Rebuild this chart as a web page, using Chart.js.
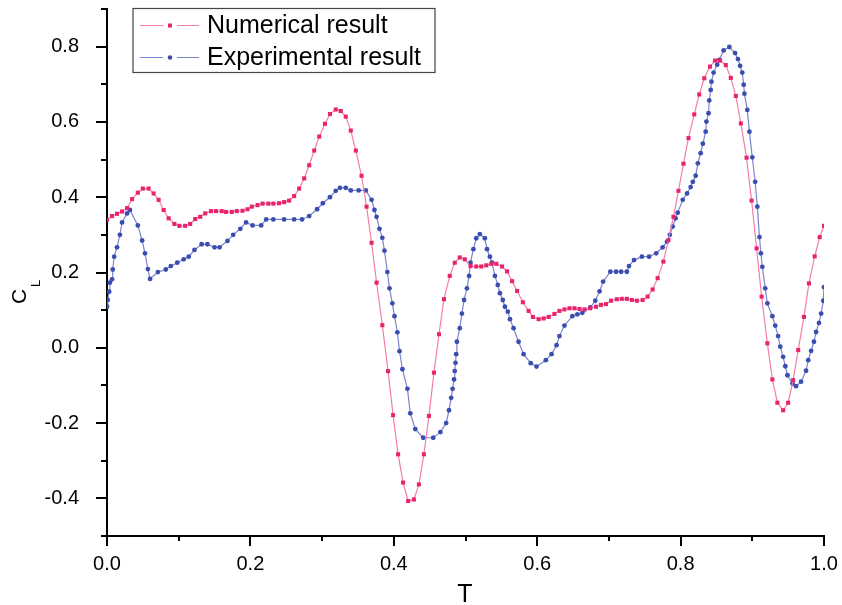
<!DOCTYPE html>
<html lang="en">
<head>
<meta charset="UTF-8" />
<title>CL vs T</title>
<script src="https://cdn.jsdelivr.net/npm/chart.js"></script>
<style>
  html, body { margin: 0; padding: 0; background: #fff; }
  .wrap { position: relative; width: 842px; height: 605px; }
</style>
</head>
<body>
<div class="wrap"><canvas id="clChart" width="842" height="605"></canvas></div>
<script>
// numerical result (pink squares)
const numT = [
  0, 0.007, 0.014, 0.021, 0.028, 0.035, 0.043, 0.05, 0.058, 0.065, 0.072, 0.079, 0.086, 0.094,
  0.101, 0.109, 0.116, 0.123, 0.13, 0.137, 0.145, 0.152, 0.16, 0.166, 0.174, 0.181, 0.189, 0.196,
  0.202, 0.21, 0.217, 0.225, 0.232, 0.24, 0.247, 0.254, 0.261, 0.268, 0.275, 0.282, 0.289, 0.296,
  0.304, 0.311, 0.319, 0.326, 0.333, 0.34, 0.347, 0.355, 0.362, 0.369, 0.376, 0.384, 0.392, 0.399,
  0.406, 0.413, 0.42, 0.428, 0.435, 0.442, 0.449, 0.456, 0.463, 0.47, 0.478, 0.485, 0.492, 0.499,
  0.507, 0.515, 0.522, 0.529, 0.536, 0.543, 0.551, 0.558, 0.565, 0.572, 0.58, 0.588, 0.594, 0.602,
  0.609, 0.616, 0.624, 0.631, 0.638, 0.645, 0.652, 0.659, 0.666, 0.674, 0.682, 0.689, 0.696, 0.703,
  0.711, 0.718, 0.725, 0.732, 0.739, 0.747, 0.754, 0.761, 0.768, 0.776, 0.783, 0.79, 0.797, 0.804,
  0.811, 0.819, 0.826, 0.833, 0.841, 0.848, 0.855, 0.863, 0.87, 0.877, 0.884, 0.892, 0.899, 0.906,
  0.913, 0.921, 0.928, 0.935, 0.943, 0.95, 0.957, 0.964, 0.972, 0.979, 0.987, 0.994, 1.0
];
const numCL = [
  0.34, 0.35, 0.356, 0.362, 0.371, 0.395, 0.412, 0.423, 0.423, 0.41, 0.393, 0.366, 0.344, 0.329,
  0.324, 0.324, 0.329, 0.342, 0.348, 0.357, 0.363, 0.363, 0.363, 0.361, 0.361, 0.363, 0.364, 0.368,
  0.375, 0.379, 0.383, 0.383, 0.383, 0.384, 0.387, 0.391, 0.403, 0.423, 0.45, 0.485, 0.524, 0.561,
  0.595, 0.621, 0.633, 0.629, 0.614, 0.577, 0.524, 0.457, 0.375, 0.279, 0.173, 0.06, -0.062, -0.179,
  -0.283, -0.358, -0.407, -0.403, -0.363, -0.283, -0.181, -0.066, 0.036, 0.129, 0.191, 0.226, 0.24, 0.235,
  0.217, 0.216, 0.216, 0.219, 0.223, 0.223, 0.216, 0.203, 0.177, 0.151, 0.121, 0.098, 0.082, 0.076,
  0.078, 0.082, 0.09, 0.098, 0.102, 0.105, 0.105, 0.103, 0.102, 0.105, 0.109, 0.114, 0.116, 0.125,
  0.129, 0.13, 0.13, 0.127, 0.125, 0.127, 0.136, 0.155, 0.185, 0.229, 0.286, 0.348, 0.417, 0.489,
  0.557, 0.62, 0.673, 0.716, 0.747, 0.763, 0.763, 0.751, 0.717, 0.669, 0.596, 0.505, 0.391, 0.264,
  0.136, 0.012, -0.084, -0.146, -0.166, -0.146, -0.086, -0.006, 0.082, 0.171, 0.243, 0.294, 0.324
];

// experimental result (blue dots)
const expT = [
  0, 0.001, 0.003, 0.004, 0.007, 0.008, 0.01, 0.014, 0.018, 0.021, 0.028, 0.032, 0.043, 0.049,
  0.053, 0.057, 0.06, 0.071, 0.082, 0.089, 0.098, 0.107, 0.114, 0.122, 0.132, 0.14, 0.15, 0.157,
  0.168, 0.176, 0.186, 0.194, 0.203, 0.215, 0.222, 0.232, 0.247, 0.261, 0.272, 0.282, 0.293, 0.301,
  0.311, 0.319, 0.325, 0.333, 0.34, 0.351, 0.361, 0.369, 0.373, 0.376, 0.38, 0.384, 0.387, 0.391,
  0.394, 0.398, 0.401, 0.405, 0.408, 0.412, 0.419, 0.423, 0.43, 0.441, 0.455, 0.465, 0.473, 0.477,
  0.48, 0.482, 0.484, 0.485, 0.486, 0.487, 0.488, 0.492, 0.495, 0.498, 0.502, 0.505, 0.507, 0.511,
  0.515, 0.52, 0.527, 0.53, 0.534, 0.537, 0.541, 0.545, 0.548, 0.552, 0.555, 0.559, 0.562, 0.567,
  0.574, 0.581, 0.591, 0.599, 0.612, 0.62, 0.627, 0.631, 0.638, 0.649, 0.656, 0.663, 0.674, 0.681,
  0.687, 0.692, 0.702, 0.71, 0.717, 0.725, 0.728, 0.735, 0.746, 0.756, 0.766, 0.775, 0.781, 0.785,
  0.789, 0.793, 0.796, 0.803, 0.809, 0.814, 0.817, 0.821, 0.824, 0.828, 0.831, 0.835, 0.836, 0.839,
  0.84, 0.842, 0.843, 0.846, 0.851, 0.854, 0.86, 0.868, 0.876, 0.88, 0.883, 0.886, 0.888, 0.889,
  0.893, 0.896, 0.9, 0.904, 0.907, 0.91, 0.912, 0.914, 0.918, 0.921, 0.928, 0.932, 0.936, 0.939,
  0.943, 0.946, 0.949, 0.956, 0.961, 0.968, 0.975, 0.978, 0.982, 0.986, 0.989, 0.993, 0.996, 0.999, 1.0
];
const expCL = [
  0.109, 0.127, 0.149, 0.173, 0.182, 0.208, 0.242, 0.267, 0.3, 0.333, 0.357, 0.366, 0.325, 0.285,
  0.251, 0.209, 0.183, 0.201, 0.208, 0.217, 0.226, 0.235, 0.242, 0.26, 0.275, 0.275, 0.267, 0.267,
  0.284, 0.3, 0.316, 0.333, 0.325, 0.325, 0.341, 0.341, 0.341, 0.341, 0.341, 0.35, 0.368, 0.384,
  0.4, 0.417, 0.425, 0.425, 0.418, 0.418, 0.418, 0.393, 0.366, 0.348, 0.316, 0.292, 0.258, 0.201,
  0.158, 0.118, 0.084, 0.041, -0.009, -0.057, -0.109, -0.174, -0.216, -0.239, -0.239, -0.224, -0.2, -0.166,
  -0.133, -0.109, -0.084, -0.062, -0.04, -0.017, 0.016, 0.052, 0.091, 0.127, 0.158, 0.191, 0.226, 0.262,
  0.291, 0.302, 0.291, 0.262, 0.242, 0.226, 0.191, 0.167, 0.145, 0.127, 0.109, 0.096, 0.076, 0.052,
  0.016, -0.017, -0.041, -0.05, -0.033, -0.017, 0.007, 0.031, 0.059, 0.084, 0.089, 0.093, 0.107, 0.125,
  0.15, 0.176, 0.202, 0.202, 0.202, 0.202, 0.217, 0.233, 0.242, 0.242, 0.251, 0.267, 0.282, 0.3,
  0.322, 0.344, 0.359, 0.393, 0.41, 0.427, 0.441, 0.457, 0.49, 0.517, 0.542, 0.574, 0.601, 0.623,
  0.657, 0.685, 0.707, 0.731, 0.752, 0.765, 0.79, 0.799, 0.783, 0.767, 0.749, 0.731, 0.699, 0.675,
  0.632, 0.574, 0.506, 0.441, 0.375, 0.294, 0.251, 0.215, 0.158, 0.118, 0.084, 0.059, 0.031, 0.003,
  -0.024, -0.049, -0.073, -0.095, -0.102, -0.09, -0.061, -0.033, -0.008, 0.016, 0.042, 0.066, 0.091, 0.125, 0.161
];

const seriesNames = ["Numerical result", "Experimental result"];
const xTitle = "T";
const yTitleMain = "C";
const yTitleSub = "L";

const FONT = "Arial, 'Liberation Sans', sans-serif";
const NUM_LINE = "#f47ea8";
const NUM_MARK = "#e8246f";
const EXP_LINE = "#7d84cf";
const EXP_MARK = "#3a4eaf";

function toPoints(xs, ys) {
  return xs.map((x, i) => ({ x: x, y: ys[i] }));
}

function isMajor(v) {
  return Math.round(v * 10) % 2 === 0;
}

function tickLabel(v) {
  if (!isMajor(v)) return "";
  return (Math.abs(v) < 1e-9 ? 0 : v).toFixed(1);
}

// tick marks: long on labelled ticks, short on the ones between
const tickMarks = {
  id: "tickMarks",
  afterDraw(chart) {
    const ctx = chart.ctx;
    const xs = chart.scales.x;
    const ys = chart.scales.y;
    const area = chart.chartArea;
    ctx.save();
    ctx.strokeStyle = "#000";
    ctx.lineWidth = 2;
    xs.ticks.forEach((t) => {
      const px = Math.round(xs.getPixelForValue(t.value));
      const len = isMajor(t.value) ? 10 : 5;
      ctx.beginPath();
      ctx.moveTo(px, area.bottom);
      ctx.lineTo(px, area.bottom + len);
      ctx.stroke();
    });
    ys.ticks.forEach((t) => {
      const py = Math.round(ys.getPixelForValue(t.value));
      const len = isMajor(t.value) ? 11 : 6;
      ctx.beginPath();
      ctx.moveTo(area.left, py);
      ctx.lineTo(area.left - len, py);
      ctx.stroke();
    });
    ctx.restore();
  },
};

// axis titles: T below, rotated C with subscript L on the left
const axisTitles = {
  id: "axisTitles",
  afterDraw(chart) {
    const ctx = chart.ctx;
    ctx.save();
    ctx.fillStyle = "#000";
    ctx.textAlign = "center";
    ctx.textBaseline = "alphabetic";
    ctx.font = "25px " + FONT;
    ctx.fillText(xTitle, 465, 602);

    ctx.textAlign = "left";
    ctx.save();
    ctx.translate(26, 304);
    ctx.rotate(-Math.PI / 2);
    ctx.font = "21px " + FONT;
    ctx.fillText(yTitleMain, 0, 0);
    ctx.restore();
    ctx.save();
    ctx.translate(40, 287);
    ctx.rotate(-Math.PI / 2);
    ctx.font = "13px " + FONT;
    ctx.fillText(yTitleSub, 0, 0);
    ctx.restore();
    ctx.restore();
  },
};

// boxed legend in the upper left of the plot
const boxLegend = {
  id: "boxLegend",
  afterDraw(chart) {
    const ctx = chart.ctx;
    const rows = [
      { label: seriesNames[0], line: NUM_LINE, mark: NUM_MARK, style: "rect", y: 25.5 },
      { label: seriesNames[1], line: EXP_LINE, mark: EXP_MARK, style: "circle", y: 57.5 },
    ];
    ctx.save();
    ctx.fillStyle = "#fff";
    ctx.fillRect(133, 8.5, 302, 64);
    ctx.strokeStyle = "#444";
    ctx.lineWidth = 1.2;
    ctx.strokeRect(133, 8.5, 302, 64);
    rows.forEach((r) => {
      ctx.strokeStyle = r.line;
      ctx.lineWidth = 1;
      ctx.beginPath();
      ctx.moveTo(140, r.y);
      ctx.lineTo(163, r.y);
      ctx.moveTo(177, r.y);
      ctx.lineTo(199, r.y);
      ctx.stroke();
      ctx.fillStyle = r.mark;
      if (r.style === "rect") {
        ctx.fillRect(168, r.y - 2, 4, 4);
      } else {
        ctx.beginPath();
        ctx.arc(170, r.y, 2.3, 0, Math.PI * 2);
        ctx.fill();
      }
      ctx.fillStyle = "#000";
      ctx.font = "25px " + FONT;
      ctx.textAlign = "left";
      ctx.textBaseline = "middle";
      ctx.fillText(r.label, 207, r.y + 1);
    });
    ctx.restore();
  },
};

const tickFont = { family: FONT, size: 20 };

new Chart(document.getElementById("clChart"), {
  type: "scatter",
  data: {
    datasets: [
      {
        label: seriesNames[0],
        data: toPoints(numT, numCL),
        showLine: true,
        borderColor: NUM_LINE,
        borderWidth: 1.2,
        pointStyle: "rect",
        pointRadius: 2.9,
        pointBorderWidth: 0,
        pointBackgroundColor: NUM_MARK,
        tension: 0,
      },
      {
        label: seriesNames[1],
        data: toPoints(expT, expCL),
        showLine: true,
        borderColor: EXP_LINE,
        borderWidth: 1.2,
        pointStyle: "circle",
        pointRadius: 2.4,
        pointBorderWidth: 0,
        pointBackgroundColor: EXP_MARK,
        tension: 0,
      },
    ],
  },
  options: {
    responsive: false,
    animation: false,
    devicePixelRatio: 1,
    layout: { autoPadding: false, padding: { left: 0, right: 18, top: 9, bottom: 0 } },
    plugins: {
      legend: { display: false },
      tooltip: { enabled: false },
    },
    scales: {
      x: {
        type: "linear",
        min: 0,
        max: 1.0,
        afterFit: (s) => {
          s.height = 69;
          s.paddingLeft = 0;
          s.paddingRight = 0;
        },
        grid: { display: false },
        border: { display: true, color: "#000", width: 2 },
        ticks: {
          stepSize: 0.1,
          autoSkip: false,
          maxRotation: 0,
          padding: 8,
          color: "#000",
          font: tickFont,
          callback: tickLabel,
        },
      },
      y: {
        type: "linear",
        min: -0.5,
        max: 0.9,
        afterFit: (s) => {
          s.width = 107;
          s.paddingTop = 0;
          s.paddingBottom = 0;
        },
        grid: { display: false },
        border: { display: true, color: "#000", width: 2 },
        ticks: {
          stepSize: 0.1,
          autoSkip: false,
          padding: 20,
          color: "#000",
          font: tickFont,
          callback: tickLabel,
        },
      },
    },
  },
  plugins: [tickMarks, axisTitles, boxLegend],
});
</script>
</body>
</html>
